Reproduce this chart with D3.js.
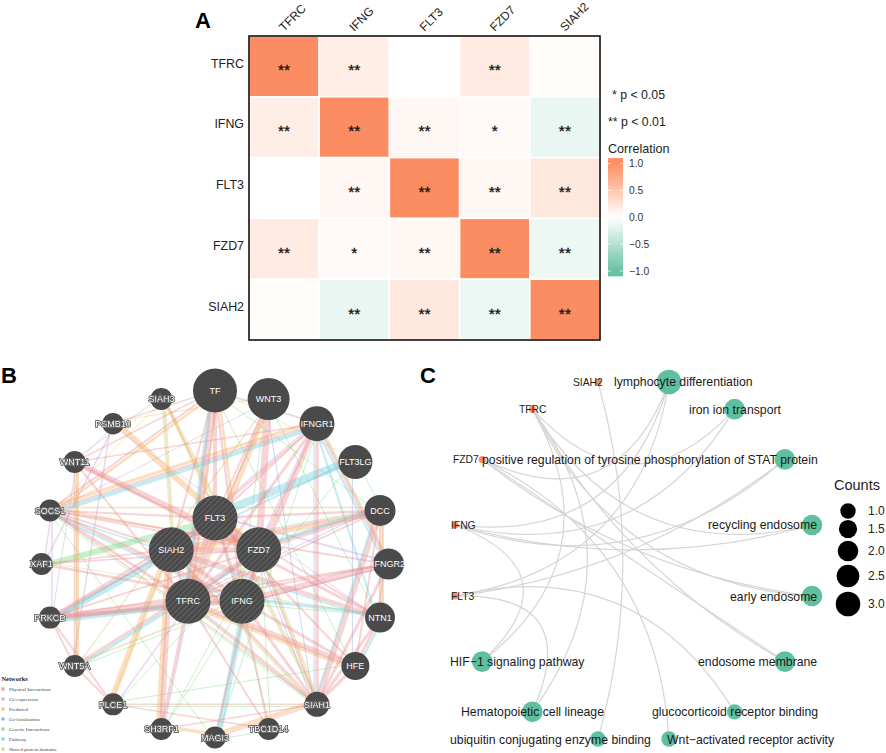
<!DOCTYPE html>
<html><head><meta charset="utf-8">
<script src="https://cdnjs.cloudflare.com/ajax/libs/d3/7.8.5/d3.min.js"></script>
<style>html,body{margin:0;padding:0;background:#fff}svg{display:block}text{font-family:"Liberation Sans",Arial,sans-serif}</style>
</head><body><svg id="chart" width="886" height="753"></svg>
<script>
// ---------- Panel A data ----------
const heatGenes = ["TFRC","IFNG","FLT3","FZD7","SIAH2"];
const corrValues = [
  [1.00, 0.15, 0.00, 0.18, 0.03],
  [0.15, 1.00, 0.07, 0.05,-0.15],
  [0.00, 0.07, 1.00, 0.07, 0.20],
  [0.18, 0.05, 0.07, 1.00,-0.12],
  [0.03,-0.15, 0.20,-0.12, 1.00]
];
const corrStars = [
  ["**","**","","**",""],
  ["**","**","**","*","**"],
  ["","**","**","**","**"],
  ["**","*","**","**","**"],
  ["","**","**","**","**"]
];
const corrTicks = [1.0,0.5,0.0,-0.5,-1.0];

// ---------- Panel B data ----------
const outerGenes = ["TF","WNT3","IFNGR1","FLT3LG","DCC","IFNGR2","NTN1","HFE","SIAH1","TBC1D14","MAGI3","SH3RF1","PLCE1","WNT5A","PRKCD","XAF1","SOCS1","WNT11","PSMB10","SIAH3"];
const outerScores = [0.96,0.88,0.60,0.56,0.44,0.44,0.40,0.32,0.20,0.08,0.08,0.08,0.08,0.08,0.08,0.08,0.08,0.08,0.06,0.08];
const innerGenes = ["FLT3","FZD7","IFNG","TFRC","SIAH2"];
const networkTypes = ["Physical Interactions","Co-expression","Predicted","Co-localization","Genetic Interactions","Pathway","Shared protein domains"];
const physicalEdges = [["TF","TFRC",6],["TF","FLT3",4],["TF","IFNG",2.5],["TF","SIAH2",2],["TF","PSMB10",1.5],["TF","SOCS1",2],["TF","WNT11",1.5],["TF","IFNGR1",2],["WNT3","FZD7",7],["WNT3","FLT3",2],["WNT3","TFRC",2.5],
["IFNGR1","IFNG",5],["IFNGR1","FZD7",2],["IFNGR1","TFRC",3],["IFNGR1","SIAH1",3.5],["IFNGR1","SOCS1",2],["IFNGR1","SIAH2",2],["IFNGR1","IFNGR2",3],["IFNGR1","WNT11",1.5],["IFNGR1","FLT3",2],
["DCC","SIAH1",5],["DCC","NTN1",2.5],["DCC","FZD7",3],["DCC","SIAH2",3],["DCC","FLT3",2.5],["DCC","TFRC",2],["IFNGR2","IFNG",6],["IFNGR2","SOCS1",2],["IFNGR2","SIAH1",3],["IFNGR2","TFRC",2],["IFNGR2","PRKCD",2],
["NTN1","SIAH2",4],["NTN1","WNT11",3],["NTN1","HFE",3],["NTN1","FLT3",2],["HFE","TFRC",5],["HFE","IFNG",3],["HFE","SIAH1",3.5],["HFE","FLT3",2],["HFE","DCC",2],
["SIAH1","SIAH2",2],["SIAH1","TFRC",3],["SIAH1","FZD7",2],["SIAH1","IFNG",3],["SIAH1","NTN1",3],["SIAH1","PLCE1",1.5],["SIAH1","SOCS1",1.5],["SH3RF1","SIAH2",5],["SH3RF1","TFRC",3],["SH3RF1","SIAH1",1.5],
["PRKCD","TFRC",7],["PRKCD","IFNG",4],["PRKCD","SIAH2",2.5],["PRKCD","FLT3",2.5],["PRKCD","WNT5A",2],["PRKCD","FZD7",2],["PLCE1","PRKCD",2],["PLCE1","WNT5A",2],["PLCE1","TBC1D14",1.5],
["WNT5A","FZD7",3],["WNT5A","WNT11",2],["SOCS1","IFNG",3.5],["SOCS1","FLT3",2],["SOCS1","TFRC",3],["SOCS1","FZD7",2],["SOCS1","SIAH2",2],["WNT11","FZD7",6],["WNT11","TFRC",2],["XAF1","IFNG",2.5],["XAF1","SIAH2",1.5],["XAF1","FZD7",1.5],
["TBC1D14","TFRC",2],["TBC1D14","IFNG",2],["MAGI3","FZD7",2],["MAGI3","SIAH1",1.5],["TFRC","IFNG",6],["FLT3","FZD7",3],["SIAH2","FZD7",5],["SIAH2","IFNG",4],["TFRC","FZD7",3],["FLT3","IFNG",4],["TFRC","SIAH2",3],["FLT3","TFRC",3],["FLT3","SIAH2",3]];
const coexpEdges = [["PSMB10","WNT5A",1.5],["XAF1","SOCS1",1.5],["XAF1","PSMB10",1.5],["PRKCD","SOCS1",1.5],["PRKCD","WNT11",1],["IFNGR2","FLT3",2],["IFNGR1","FZD7",1.5],["PLCE1","TFRC",1.5],["SH3RF1","TFRC",1.5],["DCC","FZD7",1.5],["PSMB10","NTN1",1],["SIAH3","WNT11",1],["IFNGR1","SIAH2",1.5],["WNT11","PSMB10",1],["IFNG","IFNGR2",1.5],["SOCS1","WNT3",1]];
const predictedEdges = [["PSMB10","FLT3",6],["SOCS1","IFNGR1",3],["TF","SOCS1",2.5],["PLCE1","SIAH2",6],["SH3RF1","SIAH2",5],["SH3RF1","MAGI3",3.5],["MAGI3","SIAH1",4],["WNT11","WNT5A",3],["DCC","SIAH2",4],["HFE","TFRC",4],["WNT3","TFRC",3],["DCC","NTN1",2],["TF","TFRC",2],["SOCS1","FZD7",2],["SIAH3","FLT3",2.5],["WNT3","FLT3",2],["FLT3","FZD7",4],["TFRC","FLT3",2.5],["SOCS1","DCC",1.5],["TF","IFNG",2.5]];
const colocEdges = [["IFNGR1","SIAH1",1],["FLT3LG","HFE",1],["FZD7","SIAH1",1],["IFNGR2","NTN1",1],["WNT3","SIAH1",1],["DCC","TFRC",1]];
const geneticEdges = [["XAF1","FLT3",6],["SOCS1","SIAH1",1],["WNT3","NTN1",1],["DCC","FLT3LG",1],["MAGI3","IFNGR1",1],["TF","HFE",1],["SH3RF1","FZD7",1],["TBC1D14","FZD7",1],["PLCE1","FZD7",1],["MAGI3","TBC1D14",1],["TFRC","SIAH1",1],["WNT5A","IFNG",1],["SOCS1","MAGI3",1],["TBC1D14","FLT3",1],["SH3RF1","IFNG",1],["DCC","SIAH2",1],["PLCE1","SIAH1",1],["WNT3","IFNG",1],["TF","DCC",1],["NTN1","TFRC",1],["HFE","PLCE1",1],["FLT3LG","IFNG",1]];
const pathwayEdges = [["FLT3LG","FLT3",8],["PRKCD","TFRC",6],["PRKCD","SIAH2",5],["TF","TFRC",4],["MAGI3","IFNG",6],["SOCS1","IFNGR1",4],["IFNGR1","NTN1",2],["WNT5A","FZD7",3],["IFNGR1","IFNGR2",2],["DCC","FZD7",3],["DCC","SIAH1",2],["SOCS1","IFNG",2],["NTN1","IFNG",3],["SOCS1","NTN1",1.5],["PRKCD","FLT3",2],["FLT3LG","SIAH2",2],["HFE","NTN1",2]];
const sharedEdges = [["SIAH3","SIAH1",4],["SIAH3","SIAH2",4],["SIAH1","SIAH2",2.5],["FZD7","SIAH1",3],["WNT11","WNT5A",1.5],["WNT3","WNT5A",1.5],["IFNGR1","IFNGR2",2],["DCC","NTN1",1.5],["SIAH3","SOCS1",1],["XAF1","NTN1",1],["TF","FLT3LG",1],["PSMB10","WNT3",1],["WNT5A","IFNG",2],["PLCE1","SIAH2",1]];

// ---------- Panel C data ----------
const termNames = ["lymphocyte differentiation","iron ion transport","positive regulation of tyrosine phosphorylation of STAT protein","recycling endosome","early endosome","endosome membrane","glucocorticoid receptor binding","Wnt\u2212activated receptor activity","ubiquitin conjugating enzyme binding","Hematopoietic cell lineage","HIF\u22121 signaling pathway"];
const cnetGenes = ["FLT3","IFNG","FZD7","TFRC","SIAH2"];
const termGeneEdges = [
  ["SIAH2","ubiquitin conjugating enzyme binding"],
  ["TFRC","iron ion transport"],["TFRC","recycling endosome"],["TFRC","early endosome"],["TFRC","endosome membrane"],["TFRC","Hematopoietic cell lineage"],["TFRC","HIF\u22121 signaling pathway"],
  ["FZD7","lymphocyte differentiation"],["FZD7","early endosome"],["FZD7","endosome membrane"],["FZD7","Wnt\u2212activated receptor activity"],
  ["IFNG","lymphocyte differentiation"],["IFNG","iron ion transport"],["IFNG","recycling endosome"],["IFNG","HIF\u22121 signaling pathway"],
  ["FLT3","lymphocyte differentiation"],["FLT3","positive regulation of tyrosine phosphorylation of STAT protein"],["IFNG","positive regulation of tyrosine phosphorylation of STAT protein"],["FLT3","glucocorticoid receptor binding"],["FLT3","Hematopoietic cell lineage"]
];
const countLevels = [1.0,1.5,2.0,2.5,3.0];

// ---------- Styling / layout ----------
const svg = d3.select("#chart");
const orange="#FC8D62", green="#66C2A5";
const panelLetters=[["A",195,28],["B",1,383],["C",420,383]];
svg.selectAll("text.letter").data(panelLetters).join("text").attr("class","letter")
  .attr("x",d=>d[1]).attr("y",d=>d[2]).attr("font-size",22).attr("font-weight","bold").attr("fill","#000").text(d=>d[0]);

// ===== Panel A =====
const hx=d3.scaleBand().domain(heatGenes).range([249,600]);
const hy=d3.scaleBand().domain(heatGenes).range([36,340]);
const corrColor=d3.scaleLinear().domain([-1,0,1]).range([green,"#ffffff",orange]).interpolate(d3.interpolateLab).clamp(true);
const A=svg.append("g");
const cells=heatGenes.flatMap((r,i)=>heatGenes.map((c,j)=>({r,c,v:corrValues[i][j],s:corrStars[i][j]})));
A.selectAll("rect.cell").data(cells).join("rect").attr("class","cell")
  .attr("x",d=>hx(d.c)).attr("y",d=>hy(d.r)).attr("width",hx.bandwidth()).attr("height",hy.bandwidth())
  .attr("fill",d=>corrColor(d.v)).attr("stroke","#fff").attr("stroke-width",1.5);
A.selectAll("text.star").data(cells.filter(d=>d.s)).join("text").attr("class","star")
  .attr("x",d=>hx(d.c)+hx.bandwidth()/2).attr("y",d=>hy(d.r)+hy.bandwidth()/2+9)
  .attr("text-anchor","middle").attr("font-size",15.5).attr("fill","#111").attr("stroke","#111").attr("stroke-width",.3).text(d=>d.s);
A.append("rect").attr("x",249).attr("y",36).attr("width",351).attr("height",304).attr("fill","none").attr("stroke","#111").attr("stroke-width",1.6);
const axL=A.append("g").attr("transform","translate(249,0)").call(d3.axisLeft(hy).tickSize(0).tickPadding(5));
axL.select(".domain").remove();
axL.selectAll("text").attr("font-size",12.4).attr("font-family","Liberation Sans").attr("fill","#222").attr("dy","0.1em");
const axT=A.append("g").attr("transform","translate(0,36)").call(d3.axisTop(hx).tickSize(0).tickPadding(0));
axT.select(".domain").remove();
axT.selectAll("text").attr("font-size",12).attr("font-family","Liberation Sans").attr("fill","#222").attr("text-anchor","start")
  .attr("dy",0).attr("y",0).attr("transform","translate(0,-4) rotate(-45)");
// significance key
const pNotes=[["* p < 0.05",612,99],["** p < 0.01",608,126]];
A.selectAll("text.pnote").data(pNotes).join("text").attr("class","pnote").attr("x",d=>d[1]).attr("y",d=>d[2]).attr("font-size",12.3).attr("fill","#222").text(d=>d[0]);
A.append("text").attr("x",608).attr("y",153).attr("font-size",12.6).attr("fill","#222").text("Correlation");
const barY=d3.scaleLinear().domain([1,-1]).range([163.5,271]);
const defs=svg.append("defs");
const grad=defs.append("linearGradient").attr("id","corrGrad").attr("x1",0).attr("x2",0).attr("y1",0).attr("y2",1);
d3.range(0,1.001,0.05).forEach(t=>grad.append("stop").attr("offset",t).attr("stop-color",corrColor(1.1-2.2*t)));
A.append("rect").attr("x",608).attr("y",barY(1.1)).attr("width",15).attr("height",barY(-1.1)-barY(1.1)).attr("fill","url(#corrGrad)");
const barAxis=A.append("g").attr("transform","translate(623,0)").call(d3.axisRight(barY).tickValues(corrTicks).tickFormat(d3.format(".1f")).tickSize(0).tickPadding(6));
barAxis.select(".domain").remove();
barAxis.selectAll("text").attr("font-size",10.3).attr("font-family","Liberation Sans").attr("fill","#333");
[[608,611],[620,623]].forEach(([x1,x2],k)=>{
  A.selectAll("line.barT"+k).data(corrTicks).join("line").attr("class","barT"+k).attr("x1",x1).attr("x2",x2)
   .attr("y1",d=>barY(d)).attr("y2",d=>barY(d)).attr("stroke","#fff").attr("stroke-width",.7);
});

// ===== Panel B =====
const B=svg.append("g");
const bCentre=[215,564];
const ringAngle=n=>d3.scaleLinear().domain([0,n]).range([0,2*Math.PI]);
const outerA=ringAngle(outerGenes.length), innerA=ringAngle(innerGenes.length);
const rNode=d3.scaleLinear().domain([0,1]).range([10,22.5]);
const nodePos={};
outerGenes.forEach((g,i)=>nodePos[g]={x:bCentre[0]+173.5*Math.sin(outerA(i)),y:bCentre[1]-173.5*Math.cos(outerA(i)),r:rNode(outerScores[i]),inner:false,name:g});
innerGenes.forEach((g,i)=>nodePos[g]={x:bCentre[0]+46*Math.sin(innerA(i)),y:bCentre[1]-46*Math.cos(innerA(i)),r:rNode(1),inner:true,name:g});
const typeColor=d3.scaleOrdinal().domain(networkTypes).range(["#E88A8C","#C3A0D8","#F5AF62","#8499DC","#78DC78","#6CCEDC","#D4C878"]);
const typeEdges=[[networkTypes[6],sharedEdges],[networkTypes[3],colocEdges],[networkTypes[1],coexpEdges],[networkTypes[4],geneticEdges],[networkTypes[2],predictedEdges],[networkTypes[5],pathwayEdges],[networkTypes[0],physicalEdges]];
const typeOffset={"Physical Interactions":0,"Co-expression":2,"Predicted":-3,"Co-localization":3,"Genetic Interactions":2,"Pathway":3,"Shared protein domains":-2};
typeEdges.forEach(([type,list])=>{
  B.append("g").selectAll("line").data(list).join("line")
   .each(function(d){
     const a=nodePos[d[0]],b=nodePos[d[1]];
     const L=Math.hypot(b.x-a.x,b.y-a.y)||1, o=typeOffset[type];
     const nx=-(b.y-a.y)/L*o, ny=(b.x-a.x)/L*o;
     d3.select(this).attr("x1",a.x+nx).attr("y1",a.y+ny).attr("x2",b.x+nx).attr("y2",b.y+ny);
   })
   .attr("stroke",typeColor(type)).attr("stroke-opacity",type==="Physical Interactions"?.36:.4).attr("stroke-width",d=>d[2]);
});
const hatch=defs.append("pattern").attr("id","hatch").attr("width",4).attr("height",4).attr("patternUnits","userSpaceOnUse").attr("patternTransform","rotate(-45)");
hatch.append("rect").attr("width",4).attr("height",4).attr("fill","#474747");
hatch.append("rect").attr("width",4).attr("height",1.5).attr("fill","#5f5f5f");
const allNodes=Object.values(nodePos);
B.selectAll("circle.node").data(allNodes).join("circle").attr("class","node")
  .attr("cx",d=>d.x).attr("cy",d=>d.y).attr("r",d=>d.r).attr("fill",d=>d.inner?"url(#hatch)":"#4a4a4a");
B.selectAll("text.nlabel").data(allNodes).join("text").attr("class","nlabel")
  .attr("x",d=>d.x).attr("y",d=>d.y+3.2).attr("text-anchor","middle").attr("font-size",9)
  .attr("fill","#fff").attr("stroke","#444").attr("stroke-width",d=>(d.r>12.5?0:1.5)).attr("paint-order","stroke")
  .style("filter",d=>d.r>12.5?null:"drop-shadow(0 0 .7px #fff)").text(d=>d.name);
// networks legend
const lg=B.append("g");
lg.append("text").attr("x",1.5).attr("y",681).attr("font-size",6.4).attr("font-weight","bold").attr("style","font-family:'Liberation Serif',serif").attr("fill","#222").text("Networks");
const lgY=d3.scalePoint().domain(networkTypes).range([689,749]);
lg.selectAll("rect").data(networkTypes).join("rect").attr("x",1.5).attr("y",d=>lgY(d)-1.5).attr("width",3).attr("height",3).attr("fill",d=>typeColor(d)).attr("opacity",.85);
lg.selectAll("text.lt").data(networkTypes).join("text").attr("class","lt").attr("x",9).attr("y",d=>lgY(d)+1.7)
  .attr("font-size",5).attr("style","font-family:'Liberation Serif',serif").attr("fill","#444").text(d=>d);

// ===== Panel C =====
const C=svg.append("g");
const cCentre=[633.5,560.5];
const ringNames=termNames.concat(cnetGenes);
const cAngle=d3.scaleLinear().domain([0,ringNames.length]).range([Math.PI/16,Math.PI/16+2*Math.PI]);
const cPos={};
ringNames.forEach((n,i)=>cPos[n]={name:n,x:cCentre[0]+182*Math.sin(cAngle(i)),y:cCentre[1]-182*Math.cos(cAngle(i))});
const bulge=(a,b)=>{
  const mx=(a.x+b.x)/2,my=(a.y+b.y)/2,dx=cCentre[0]-mx,dy=cCentre[1]-my,d=Math.hypot(dx,dy)||1;
  const h=Math.min(.7*d,55)*2;
  const p=d3.path();p.moveTo(a.x,a.y);p.quadraticCurveTo(mx+dx/d*h,my+dy/d*h,b.x,b.y);return p.toString();
};
C.selectAll("path").data(termGeneEdges).join("path").attr("d",d=>bulge(cPos[d[0]],cPos[d[1]]))
  .attr("fill","none").attr("stroke","#d8d4d4").attr("stroke-width",1.2);
const countOf=t=>termGeneEdges.filter(e=>e[1]===t).length;
const rCount=d3.scaleSqrt().domain([1,3]).range([7.7,12.3]);
C.selectAll("circle.term").data(termNames).join("circle").attr("class","term")
  .attr("cx",d=>cPos[d].x).attr("cy",d=>cPos[d].y).attr("r",d=>rCount(countOf(d))).attr("fill","#5FC09F");
C.selectAll("circle.gene").data(cnetGenes).join("circle").attr("class","gene")
  .attr("cx",d=>cPos[d].x).attr("cy",d=>cPos[d].y).attr("r",3.5).attr("fill",orange);
const termLeft=[614,689,482,708,730,698,652,667,450,461,450];
C.selectAll("text.tl").data(termNames).join("text").attr("class","tl")
  .attr("x",(d,i)=>termLeft[i]).attr("y",d=>cPos[d].y+4.5).attr("font-size",12.25).attr("fill","#1a1a1a").text(d=>d);
const geneLeft=[451,451,453,519,573];
C.selectAll("text.gl").data(cnetGenes).join("text").attr("class","gl")
  .attr("x",(d,i)=>geneLeft[i]).attr("y",d=>cPos[d].y+3.7).attr("font-size",10.3).attr("fill","#222").text(d=>d);
// counts legend
C.append("text").attr("x",834).attr("y",490).attr("font-size",14.5).attr("fill","#222").text("Counts");
const legendY=d3.scaleOrdinal().domain(countLevels).range([511,529,551,576,604]);
C.selectAll("circle.lc").data(countLevels).join("circle").attr("class","lc").attr("cx",848).attr("cy",d=>legendY(d)).attr("r",d=>rCount(d)).attr("fill","#000");
C.selectAll("text.lcl").data(countLevels).join("text").attr("class","lcl").attr("x",868).attr("y",d=>legendY(d)+4.4).attr("font-size",12).attr("fill","#222").text(d=>d3.format(".1f")(d));
</script></body></html>
